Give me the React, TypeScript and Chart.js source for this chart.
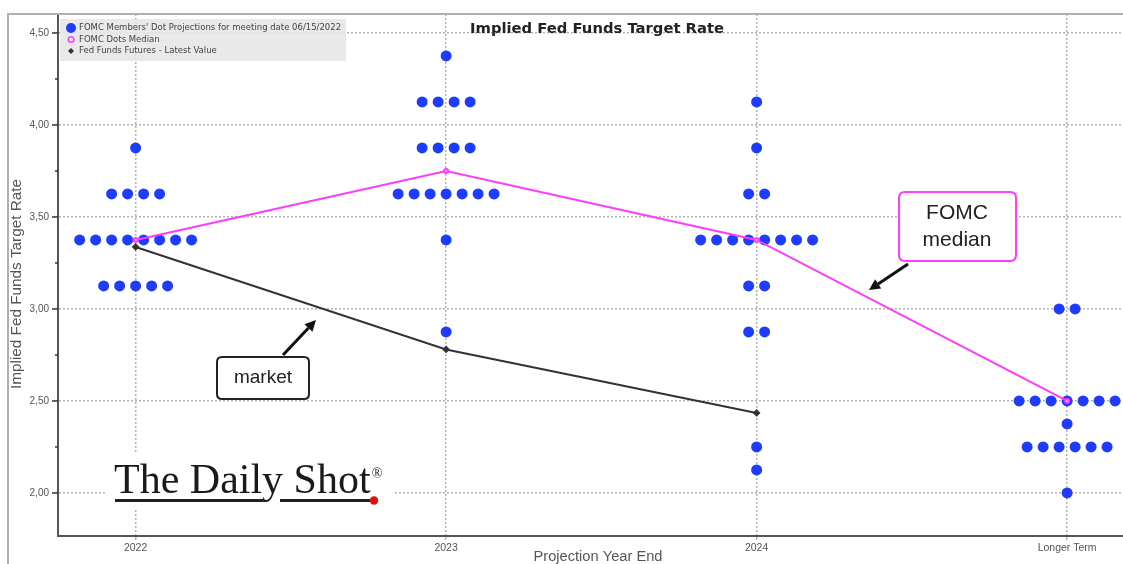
import React, { useEffect, useRef } from "react";
import { Chart, registerables } from "chart.js";

Chart.register(...registerables);

const categories = ["2022", "2023", "2024", "Longer Term"];

const rates2022 = [3.875, 3.625, 3.375, 3.125];
const counts2022 = [1, 4, 8, 5];
const rates2023 = [4.375, 4.125, 3.875, 3.625, 3.375, 2.875];
const counts2023 = [1, 4, 4, 7, 1, 1];
const rates2024 = [4.125, 3.875, 3.625, 3.375, 3.125, 2.875, 2.25, 2.125];
const counts2024 = [1, 1, 2, 8, 2, 2, 1, 1];
const ratesLonger = [3.0, 2.5, 2.375, 2.25, 2.0];
const countsLonger = [2, 7, 1, 6, 1];

const medianValues = [3.375, 3.75, 3.375, 2.5];
const marketValues = [3.337, 2.78, 2.435];

const yTickValues = [2.0, 2.25, 2.5, 2.75, 3.0, 3.25, 3.5, 3.75, 4.0, 4.25, 4.5];

const titleText = "Implied Fed Funds Target Rate";
const yAxisTitle = "Implied Fed Funds Target Rate";
const xAxisTitle = "Projection Year End";
const legendLabels = [
  "FOMC Members' Dot Projections for meeting date 06/15/2022",
  "FOMC Dots Median",
  "Fed Funds Futures - Latest Value",
];

const DOT_STEP = 0.0515;
const BLUE = "#1e3cff";
const MAGENTA = "#ff3cff";
const DARK = "#333333";

function buildDots(cat: number, rates: number[], counts: number[]) {
  const pts: { x: number; y: number }[] = [];
  rates.forEach((r, i) => {
    const n = counts[i];
    for (let j = 0; j < n; j++) {
      pts.push({ x: cat + (j - (n - 1) / 2) * DOT_STEP, y: r });
    }
  });
  return pts;
}

function fitText(ctx: CanvasRenderingContext2D, text: string, cx: number, cy: number, target: number, rot: number) {
  const w = ctx.measureText(text).width;
  ctx.save();
  ctx.translate(cx, cy);
  ctx.rotate(rot);
  ctx.scale(target / w, 1);
  ctx.fillText(text, 0, 0);
  ctx.restore();
}

const overlay = {
  id: "overlay",
  beforeDraw(chart: any) {
    const ctx = chart.ctx;
    ctx.save();
    ctx.fillStyle = "#ffffff";
    ctx.fillRect(0, 0, chart.width, chart.height);
    ctx.restore();
  },
  afterDatasetsDraw(chart: any) {
    const ctx = chart.ctx;
    const y = chart.scales.y;
    const area = chart.chartArea;
    ctx.save();
    // outer frame
    ctx.strokeStyle = "#b0b0b0";
    ctx.lineWidth = 2;
    ctx.beginPath();
    ctx.moveTo(8, chart.height);
    ctx.lineTo(8, area.top);
    ctx.lineTo(chart.width, area.top);
    ctx.stroke();

    // y tick marks
    ctx.strokeStyle = "#333";
    ctx.lineWidth = 1.5;
    yTickValues.forEach((v) => {
      const py = y.getPixelForValue(v);
      const major = Math.abs(v * 2 - Math.round(v * 2)) < 1e-6;
      ctx.beginPath();
      ctx.moveTo(area.left - (major ? 6 : 3), py);
      ctx.lineTo(area.left, py);
      ctx.stroke();
    });

    // logo
    ctx.fillStyle = "#ffffff";
    ctx.fillRect(105, 452, 288, 56);
    ctx.fillStyle = "#1a1a1a";
    ctx.font = "42px 'Liberation Serif', 'DejaVu Serif', serif";
    ctx.textBaseline = "alphabetic";
    ctx.textAlign = "left";
    ctx.fillText("The Daily Shot", 114, 493);
    const w = ctx.measureText("The Daily Shot").width;
    ctx.font = "14px 'Liberation Serif', serif";
    ctx.fillText("®", 114 + w + 1, 478);
    ctx.fillStyle = "#222";
    ctx.fillRect(115, 499, 148, 3);
    ctx.fillRect(280, 499, 92, 3);
    ctx.fillStyle = "#e01010";
    ctx.beginPath();
    ctx.arc(374, 500.5, 4.2, 0, Math.PI * 2);
    ctx.fill();
    ctx.restore();
  },
  afterDraw(chart: any) {
    const ctx = chart.ctx;
    ctx.save();

    // legend box
    ctx.fillStyle = "rgba(230,230,230,0.88)";
    ctx.fillRect(60, 19, 286, 42);
    ctx.font = "8.5px 'DejaVu Sans', sans-serif";
    ctx.textBaseline = "middle";
    ctx.textAlign = "left";
    ctx.fillStyle = "#444";
    const ly = [28, 39.5, 51];
    ctx.fillText(legendLabels[0], 79, ly[0]);
    ctx.fillText(legendLabels[1], 79, ly[1]);
    ctx.fillText(legendLabels[2], 79, ly[2]);
    ctx.fillStyle = BLUE;
    ctx.beginPath();
    ctx.arc(71, ly[0], 5, 0, Math.PI * 2);
    ctx.fill();
    ctx.strokeStyle = MAGENTA;
    ctx.lineWidth = 1.5;
    ctx.beginPath();
    ctx.arc(71, ly[1], 2.8, 0, Math.PI * 2);
    ctx.stroke();
    ctx.fillStyle = DARK;
    ctx.beginPath();
    ctx.moveTo(71, ly[2] - 3);
    ctx.lineTo(74, ly[2]);
    ctx.lineTo(71, ly[2] + 3);
    ctx.lineTo(68, ly[2]);
    ctx.closePath();
    ctx.fill();

    // title
    ctx.fillStyle = "#222";
    ctx.font = "bold 14px 'DejaVu Sans', sans-serif";
    ctx.textAlign = "center";
    fitText(ctx, titleText, 597, 29, 254, 0);

    // axis titles
    ctx.fillStyle = "#555";
    ctx.font = "14px 'Liberation Sans', sans-serif";
    fitText(ctx, xAxisTitle, 598, 557, 129, 0);
    ctx.font = "15px 'Liberation Sans', sans-serif";
    fitText(ctx, yAxisTitle, 17, 284, 210, -Math.PI / 2);

    const rr = (x0: number, y0: number, w: number, h: number, r: number) => {
      ctx.beginPath();
      ctx.moveTo(x0 + r, y0);
      ctx.lineTo(x0 + w - r, y0);
      ctx.quadraticCurveTo(x0 + w, y0, x0 + w, y0 + r);
      ctx.lineTo(x0 + w, y0 + h - r);
      ctx.quadraticCurveTo(x0 + w, y0 + h, x0 + w - r, y0 + h);
      ctx.lineTo(x0 + r, y0 + h);
      ctx.quadraticCurveTo(x0, y0 + h, x0, y0 + h - r);
      ctx.lineTo(x0, y0 + r);
      ctx.quadraticCurveTo(x0, y0, x0 + r, y0);
      ctx.closePath();
    };
    const arrow = (x1: number, y1: number, x2: number, y2: number) => {
      const ang = Math.atan2(y2 - y1, x2 - x1);
      const hl = 11;
      const bx = x2 - Math.cos(ang) * hl;
      const by = y2 - Math.sin(ang) * hl;
      ctx.strokeStyle = "#111";
      ctx.lineWidth = 3;
      ctx.beginPath();
      ctx.moveTo(x1, y1);
      ctx.lineTo(bx, by);
      ctx.stroke();
      ctx.fillStyle = "#111";
      ctx.beginPath();
      ctx.moveTo(x2, y2);
      ctx.lineTo(bx + Math.cos(ang + Math.PI / 2) * 5.5, by + Math.sin(ang + Math.PI / 2) * 5.5);
      ctx.lineTo(bx + Math.cos(ang - Math.PI / 2) * 5.5, by + Math.sin(ang - Math.PI / 2) * 5.5);
      ctx.closePath();
      ctx.fill();
    };

    rr(217, 357, 92, 42, 5);
    ctx.fillStyle = "#fff";
    ctx.fill();
    ctx.strokeStyle = "#222";
    ctx.lineWidth = 2;
    ctx.stroke();
    ctx.fillStyle = "#222";
    ctx.font = "19px 'Liberation Sans', Arial, sans-serif";
    ctx.textAlign = "center";
    ctx.textBaseline = "middle";
    ctx.fillText("market", 263, 378);
    arrow(283, 355, 316, 320);

    rr(899, 192, 117, 69, 6);
    ctx.fillStyle = "#fff";
    ctx.fill();
    ctx.strokeStyle = MAGENTA;
    ctx.lineWidth = 2;
    ctx.stroke();
    ctx.fillStyle = "#222";
    ctx.font = "21px 'Liberation Sans', Arial, sans-serif";
    ctx.fillText("FOMC", 957, 213);
    ctx.fillText("median", 957, 240);
    arrow(908, 264, 869, 290);

    ctx.restore();
  },
};

export default function App() {
  const ref = useRef<HTMLCanvasElement | null>(null);
  useEffect(() => {
    if (!ref.current) return;
    const dots = [
      ...buildDots(0, rates2022, counts2022),
      ...buildDots(1, rates2023, counts2023),
      ...buildDots(2, rates2024, counts2024),
      ...buildDots(3, ratesLonger, countsLonger),
    ];
    const chart = new Chart(ref.current, {
      type: "scatter",
      data: {
        datasets: [
          {
            label: legendLabels[1],
            data: medianValues.map((v, i) => ({ x: i, y: v })),
            showLine: true,
            borderColor: MAGENTA,
            backgroundColor: MAGENTA,
            borderWidth: 2,
            pointRadius: 2,
            pointBorderColor: MAGENTA,
            pointBackgroundColor: "#ffb0ff",
            order: 1,
          },
          {
            label: legendLabels[2],
            data: marketValues.map((v, i) => ({ x: i, y: v })),
            showLine: true,
            borderColor: DARK,
            backgroundColor: DARK,
            borderWidth: 2,
            pointStyle: "rectRot",
            pointRadius: 2.5,
            order: 2,
          },
          {
            label: legendLabels[0],
            data: dots,
            showLine: false,
            backgroundColor: BLUE,
            borderColor: BLUE,
            pointRadius: 5.5,
            borderWidth: 0,
            order: 3,
          },
        ],
      },
      options: {
        responsive: false,
        animation: false,
        layout: { autoPadding: false, padding: { top: 14, left: 0, right: 0, bottom: 0 } },
        plugins: {
          legend: { display: false },
          title: { display: false },
          tooltip: { enabled: false },
        },
        scales: {
          x: {
            type: "linear",
            min: -0.25,
            max: 3.18,
            afterBuildTicks: (s: any) => {
              s.ticks = categories.map((_, i) => ({ value: i }));
            },
            afterFit: (s: any) => {
              s.height = 28;
              s.paddingLeft = 0;
              s.paddingRight = 0;
            },
            ticks: {
              autoSkip: false,
              maxRotation: 0,
              padding: 2,
              color: "#555",
              font: { family: "'Liberation Sans', sans-serif", size: 10.5 },
              callback: (v: any) => categories[Math.round(v)] ?? "",
            },
            grid: {
              color: "rgba(145,145,145,0.7)",
              lineWidth: 1.5,
              tickLength: 4,
              tickColor: "rgba(145,145,145,0.7)",
            },
            border: { display: true, color: "#555", width: 2, dash: [2, 2] },
          },
          y: {
            type: "linear",
            min: 1.766,
            max: 4.603,
            afterBuildTicks: (s: any) => {
              s.ticks = yTickValues.map((v) => ({ value: v }));
            },
            afterFit: (s: any) => {
              s.width = 58;
              s.paddingTop = 0;
              s.paddingBottom = 0;
            },
            ticks: {
              padding: 9,
              color: "#555",
              font: { family: "'Liberation Sans', sans-serif", size: 10 },
              callback: (v: any) => {
                const n = Number(v);
                return Math.abs(n * 2 - Math.round(n * 2)) < 1e-6 ? n.toFixed(2).replace(".", ",") : "";
              },
            },
            grid: {
              drawTicks: false,
              lineWidth: 1.5,
              color: (c: any) => {
                const n = c.tick ? c.tick.value : 0;
                return Math.abs(n * 2 - Math.round(n * 2)) < 1e-6 ? "rgba(145,145,145,0.7)" : "rgba(0,0,0,0)";
              },
            },
            border: { display: true, color: "#555", width: 2, dash: [2, 2] },
          },
        },
      },
      plugins: [overlay],
    });
    return () => chart.destroy();
  }, []);
  return (
    <div style={{ position: "absolute", left: 0, top: 0, width: 1123, height: 564 }}>
      <canvas ref={ref} width={1123} height={564} />
    </div>
  );
}
